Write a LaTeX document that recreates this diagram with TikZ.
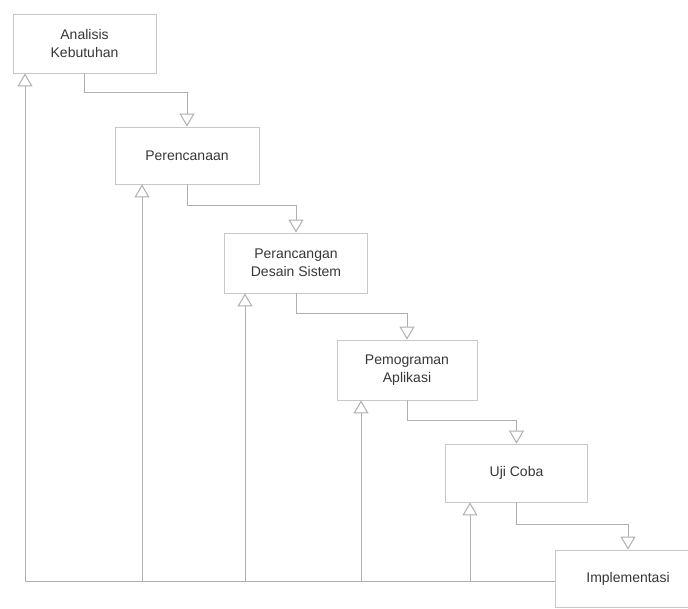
\documentclass[tikz,border=0pt]{standalone}
\usepackage{fontspec}
\setmainfont{Liberation Sans}
\usetikzlibrary{arrows.meta}
\definecolor{linegray}{RGB}{175,175,175}
\definecolor{boxgray}{RGB}{200,200,200}
\definecolor{txtgray}{RGB}{55,55,55}
\tikzset{
  stage/.style={draw=boxgray, line width=0.9pt, rectangle, align=center,
    text=txtgray, font=\fontsize{14}{18}\selectfont, inner sep=0pt},
  flow/.style={draw=linegray, line width=1pt,
    -{Triangle[open, length=13pt, width=15pt, line width=1pt]}},
  plain/.style={draw=linegray, line width=1pt}
}
\begin{document}
\begin{tikzpicture}[x=1pt,y=-1pt]
\clip (0,0) rectangle (688,608);
\fill[white] (0,0) rectangle (688,608);

% stages of the process
\node[stage, minimum width=143pt, minimum height=59pt] (b1) at (84.5,43.5) {Analisis\\Kebutuhan};
\node[stage, minimum width=144pt, minimum height=57pt] (b2) at (187,155.5) {Perencanaan};
\node[stage, minimum width=143pt, minimum height=60pt] (b3) at (296,263) {Perancangan\\Desain Sistem};
\node[stage, minimum width=140pt, minimum height=60pt] (b4) at (407,370) {Pemograman\\Aplikasi};
\node[stage, minimum width=142pt, minimum height=58pt] (b5) at (516.5,473) {Uji Coba};
\node[stage, minimum width=146pt, minimum height=57pt] (b6) at (628,578.5) {Implementasi};

% forward steps
\draw[flow] (b1.south) -- ++(0,19) -| (b2.north);
\draw[flow] (b2.south) -- ++(0,21) -| (b3.north);
\draw[flow] (b3.south) -- ++(0,20) -| (b4.north);
\draw[flow] (b4.south) -- ++(0,20) -| (b5.north);
\draw[flow] (b5.south) -- ++(0,22) -| (b6.north);

% feedback from the last stage to every earlier one
\coordinate (f1) at (25,581);
\coordinate (f2) at (142,581);
\coordinate (f3) at (245,581);
\coordinate (f4) at (361,581);
\coordinate (f5) at (470,581);
\draw[plain] (b6.west |- f1) -- (f1);
\draw[flow] (f1) -- (f1 |- b1.south);
\draw[flow] (f2) -- (f2 |- b2.south);
\draw[flow] (f3) -- (f3 |- b3.south);
\draw[flow] (f4) -- (f4 |- b4.south);
\draw[flow] (f5) -- (f5 |- b5.south);
\end{tikzpicture}
\end{document}
